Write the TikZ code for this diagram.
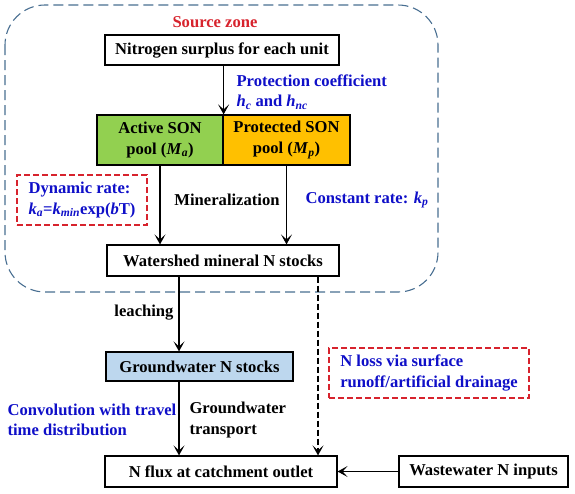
\documentclass[tikz,border=0pt]{standalone}
\usepackage{fontspec}
\setmainfont{Liberation Serif}
\usetikzlibrary{arrows.meta}

\definecolor{zoneblue}{RGB}{72,110,145}
\definecolor{activegreen}{RGB}{146,208,80}
\definecolor{protorange}{RGB}{255,192,0}
\definecolor{gwblue}{RGB}{189,215,238}
\definecolor{ratered}{RGB}{215,35,45}
\definecolor{noteblue}{RGB}{15,15,200}

\tikzset{
	box/.style={draw,line width=1.2pt,inner sep=2pt,align=center},
	notebox/.style={draw=ratered,line width=1.2pt,dash pattern=on 6pt off 3pt,text=noteblue,align=left,inner sep=2pt},
	flow/.style={line width=1.1pt,-{Stealth[length=10pt,width=11pt,inset=5pt]}},
	note/.style={text=noteblue,align=left},
}

\begin{document}
\begin{tikzpicture}[x=1pt,y=-1pt,font=\bfseries\fontsize{16.6}{20.5}\selectfont]
	\useasboundingbox (0,0) rectangle (575,493);
	% source zone
	\draw[zoneblue,line width=1.1pt,dash pattern=on 10pt off 5pt,rounded corners=40pt] (5,5) rectangle (438,292);
	\node[text=ratered] (zonetitle) at (215,22) {Source zone};

	% boxes
	\node[box,minimum width=234pt,minimum height=30pt] (surplus) at (222,50) {Nitrogen surplus for each unit};
	\node[box,fill=activegreen,minimum width=126pt,minimum height=50pt] (active) at (160,140) {Active SON\\pool (\textit{M}\textsubscript{\textit{a}})};
	\node[box,fill=protorange,minimum width=127pt,minimum height=50pt] (protected) at (286.5,140) {Protected SON\\pool (\textit{M}\textsubscript{\textit{p}})};
	\node[box,minimum width=232pt,minimum height=31pt] (watershed) at (223,260.5) {Watershed mineral N stocks};
	\node[box,fill=gwblue,minimum width=187pt,minimum height=29pt] (ground) at (199.5,366.5) {Groundwater N stocks};
	\node[box,minimum width=232pt,minimum height=31pt] (flux) at (221,471.5) {N flux at catchment outlet};
	\node[box,minimum width=169pt,minimum height=31pt] (waste) at (483.5,471.5) {Wastewater N inputs};

	% notes
	\node[notebox,minimum width=130pt,minimum height=50pt] (dynrate) at (82,200) {Dynamic rate:\\\textit{k}\textsubscript{\textit{a}}=\textit{k}\textsubscript{\textit{min}}exp(\textit{b}T)};
	\node[notebox,minimum width=200pt,minimum height=50pt] (nloss) at (429,373) {N loss via surface\\runoff/artificial drainage};
	\node[note,anchor=west] (protcoef) at (233,92) {Protection coefficient\\\textit{h}\textsubscript{\textit{c}} and \textit{h}\textsubscript{\textit{nc}}};
	\node[note,anchor=west] (constrate) at (302,200) {Constant rate: \textit{k}\textsubscript{\textit{p}}};
	\node[note,anchor=west] (convol) at (4,420) {Convolution with travel\\time distribution};
	\node (mineral) at (227,200) {Mineralization};
	\node (leach) at (144,313) {leaching};
	\node[anchor=west,align=left] (gwtrans) at (186,420) {Groundwater\\transport};

	% connectors
	\coordinate (leachx) at (179,0);
	\coordinate (lossx) at (318,0);
	\draw[flow] (surplus.south -| active.north east) -- (active.north east);
	\draw[flow] (active.south) -- (active.south |- watershed.north);
	\draw[flow] (protected.south) -- (protected.south |- watershed.north);
	\draw[flow] (watershed.south -| leachx) -- (ground.north -| leachx);
	\draw[flow] (ground.south -| leachx) -- (flux.north -| leachx);
	\draw[flow,dash pattern=on 6pt off 3pt] (watershed.south -| lossx) -- (flux.north -| lossx);
	\draw[flow] (waste.west) -- (flux.east);
\end{tikzpicture}
\end{document}
